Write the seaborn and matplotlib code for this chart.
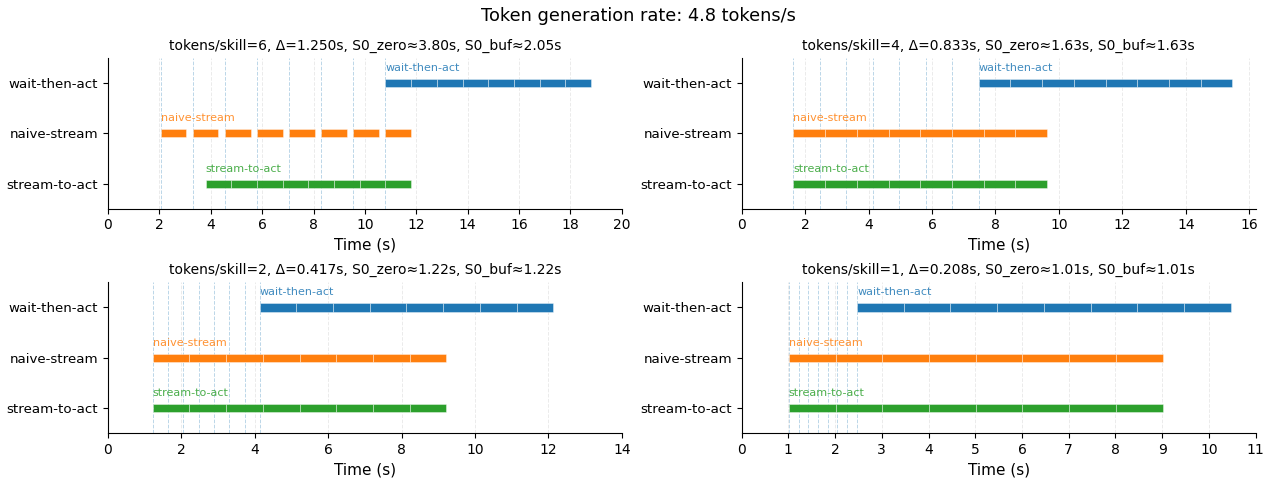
import numpy as np
import matplotlib
matplotlib.use("Agg")
import matplotlib.pyplot as plt
from matplotlib.ticker import MultipleLocator
import seaborn as sns

# -----------------------------
# DATA
# -----------------------------
token_rate = 4.8
strategies = ["wait-then-act", "naive-stream", "stream-to-act"]

titles = [
    "tokens/skill=6, Δ=1.250s, S0_zero≈3.80s, S0_buf≈2.05s",
    "tokens/skill=4, Δ=0.833s, S0_zero≈1.63s, S0_buf≈1.63s",
    "tokens/skill=2, Δ=0.417s, S0_zero≈1.22s, S0_buf≈1.22s",
    "tokens/skill=1, Δ=0.208s, S0_zero≈1.01s, S0_buf≈1.01s",
]
x_max = [20, 16.2, 14, 11]
x_step = [2, 2, 2, 1]

# time each skill's tokens are ready (dashed blue lines)
ready_times = [
    [2.05, 3.30, 4.55, 5.80, 7.05, 8.30, 9.55, 10.80],
    [1.63, 2.47, 3.30, 4.13, 4.97, 5.80, 6.63, 7.47],
    [1.22, 1.63, 2.05, 2.47, 2.88, 3.30, 3.72, 4.13],
    [1.01, 1.22, 1.43, 1.63, 1.84, 2.05, 2.26, 2.47],
]

# skill start times per strategy, each skill lasts 1 s
skill_dur = 1.0
wait_starts = [
    [10.80, 11.80, 12.80, 13.80, 14.80, 15.80, 16.80, 17.80],
    [7.47, 8.47, 9.47, 10.47, 11.47, 12.47, 13.47, 14.47],
    [4.13, 5.13, 6.13, 7.13, 8.13, 9.13, 10.13, 11.13],
    [2.47, 3.47, 4.47, 5.47, 6.47, 7.47, 8.47, 9.47],
]
naive_starts = [
    [2.05, 3.30, 4.55, 5.80, 7.05, 8.30, 9.55, 10.80],
    [1.63, 2.63, 3.63, 4.63, 5.63, 6.63, 7.63, 8.63],
    [1.22, 2.22, 3.22, 4.22, 5.22, 6.22, 7.22, 8.22],
    [1.01, 2.01, 3.01, 4.01, 5.01, 6.01, 7.01, 8.01],
]
stream_starts = [
    [3.80, 4.80, 5.80, 6.80, 7.80, 8.80, 9.80, 10.80],
    [1.63, 2.63, 3.63, 4.63, 5.63, 6.63, 7.63, 8.63],
    [1.22, 2.22, 3.22, 4.22, 5.22, 6.22, 7.22, 8.22],
    [1.01, 2.01, 3.01, 4.01, 5.01, 6.01, 7.01, 8.01],
]

# -----------------------------
# PLOT
# -----------------------------
sns.set_style("ticks", {"axes.edgecolor": "black", "text.color": "black",
                        "axes.labelcolor": "black", "xtick.color": "black",
                        "ytick.color": "black"})
colors = sns.color_palette("tab10")
strat_colors = {"wait-then-act": colors[0], "naive-stream": colors[1], "stream-to-act": colors[2]}
y_pos = {"wait-then-act": 2, "naive-stream": 1, "stream-to-act": 0}

fig, axes = plt.subplots(2, 2, figsize=(12.76, 4.8), dpi=100)
fig.subplots_adjust(left=0.0846, right=0.984, top=0.879, bottom=0.098, wspace=0.233, hspace=0.49)

for i, ax in enumerate(axes.flat):
    starts = {"wait-then-act": wait_starts[i],
              "naive-stream": naive_starts[i],
              "stream-to-act": stream_starts[i]}
    ax.set_xlim(0, x_max[i])
    ax.set_ylim(-0.5, 2.5)
    ax.xaxis.set_major_locator(MultipleLocator(x_step[i]))
    ax.grid(axis="x", linestyle="--", color="lightgray", alpha=0.45, linewidth=0.7)
    ax.set_axisbelow(True)
    for t in ready_times[i]:
        ax.axvline(t, color=colors[0], linestyle="--", linewidth=0.7, alpha=0.3, zorder=1)
    for s in strategies:
        segs = [(st, skill_dur) for st in starts[s]]
        y = y_pos[s]
        ax.broken_barh(segs, (y - 0.08, 0.16), facecolors=strat_colors[s],
                       edgecolor=(1, 1, 1, 0.45), linewidth=0.6, zorder=3)
        ax.text(starts[s][0], y + 0.2, s, color=strat_colors[s], fontsize=8,
                alpha=0.85, va="bottom", ha="left")
    ax.set_yticks([y_pos[s] for s in strategies])
    ax.set_yticklabels(strategies, fontsize=9.6)
    ax.tick_params(axis="x", labelsize=10)
    ax.set_xlabel("Time (s)", fontsize=11)
    ax.set_title(titles[i], fontsize=10)
    sns.despine(ax=ax)

fig.suptitle(f"Token generation rate: {token_rate} tokens/s", fontsize=12.8, y=0.985)
fig.savefig("out.png", dpi=100)
